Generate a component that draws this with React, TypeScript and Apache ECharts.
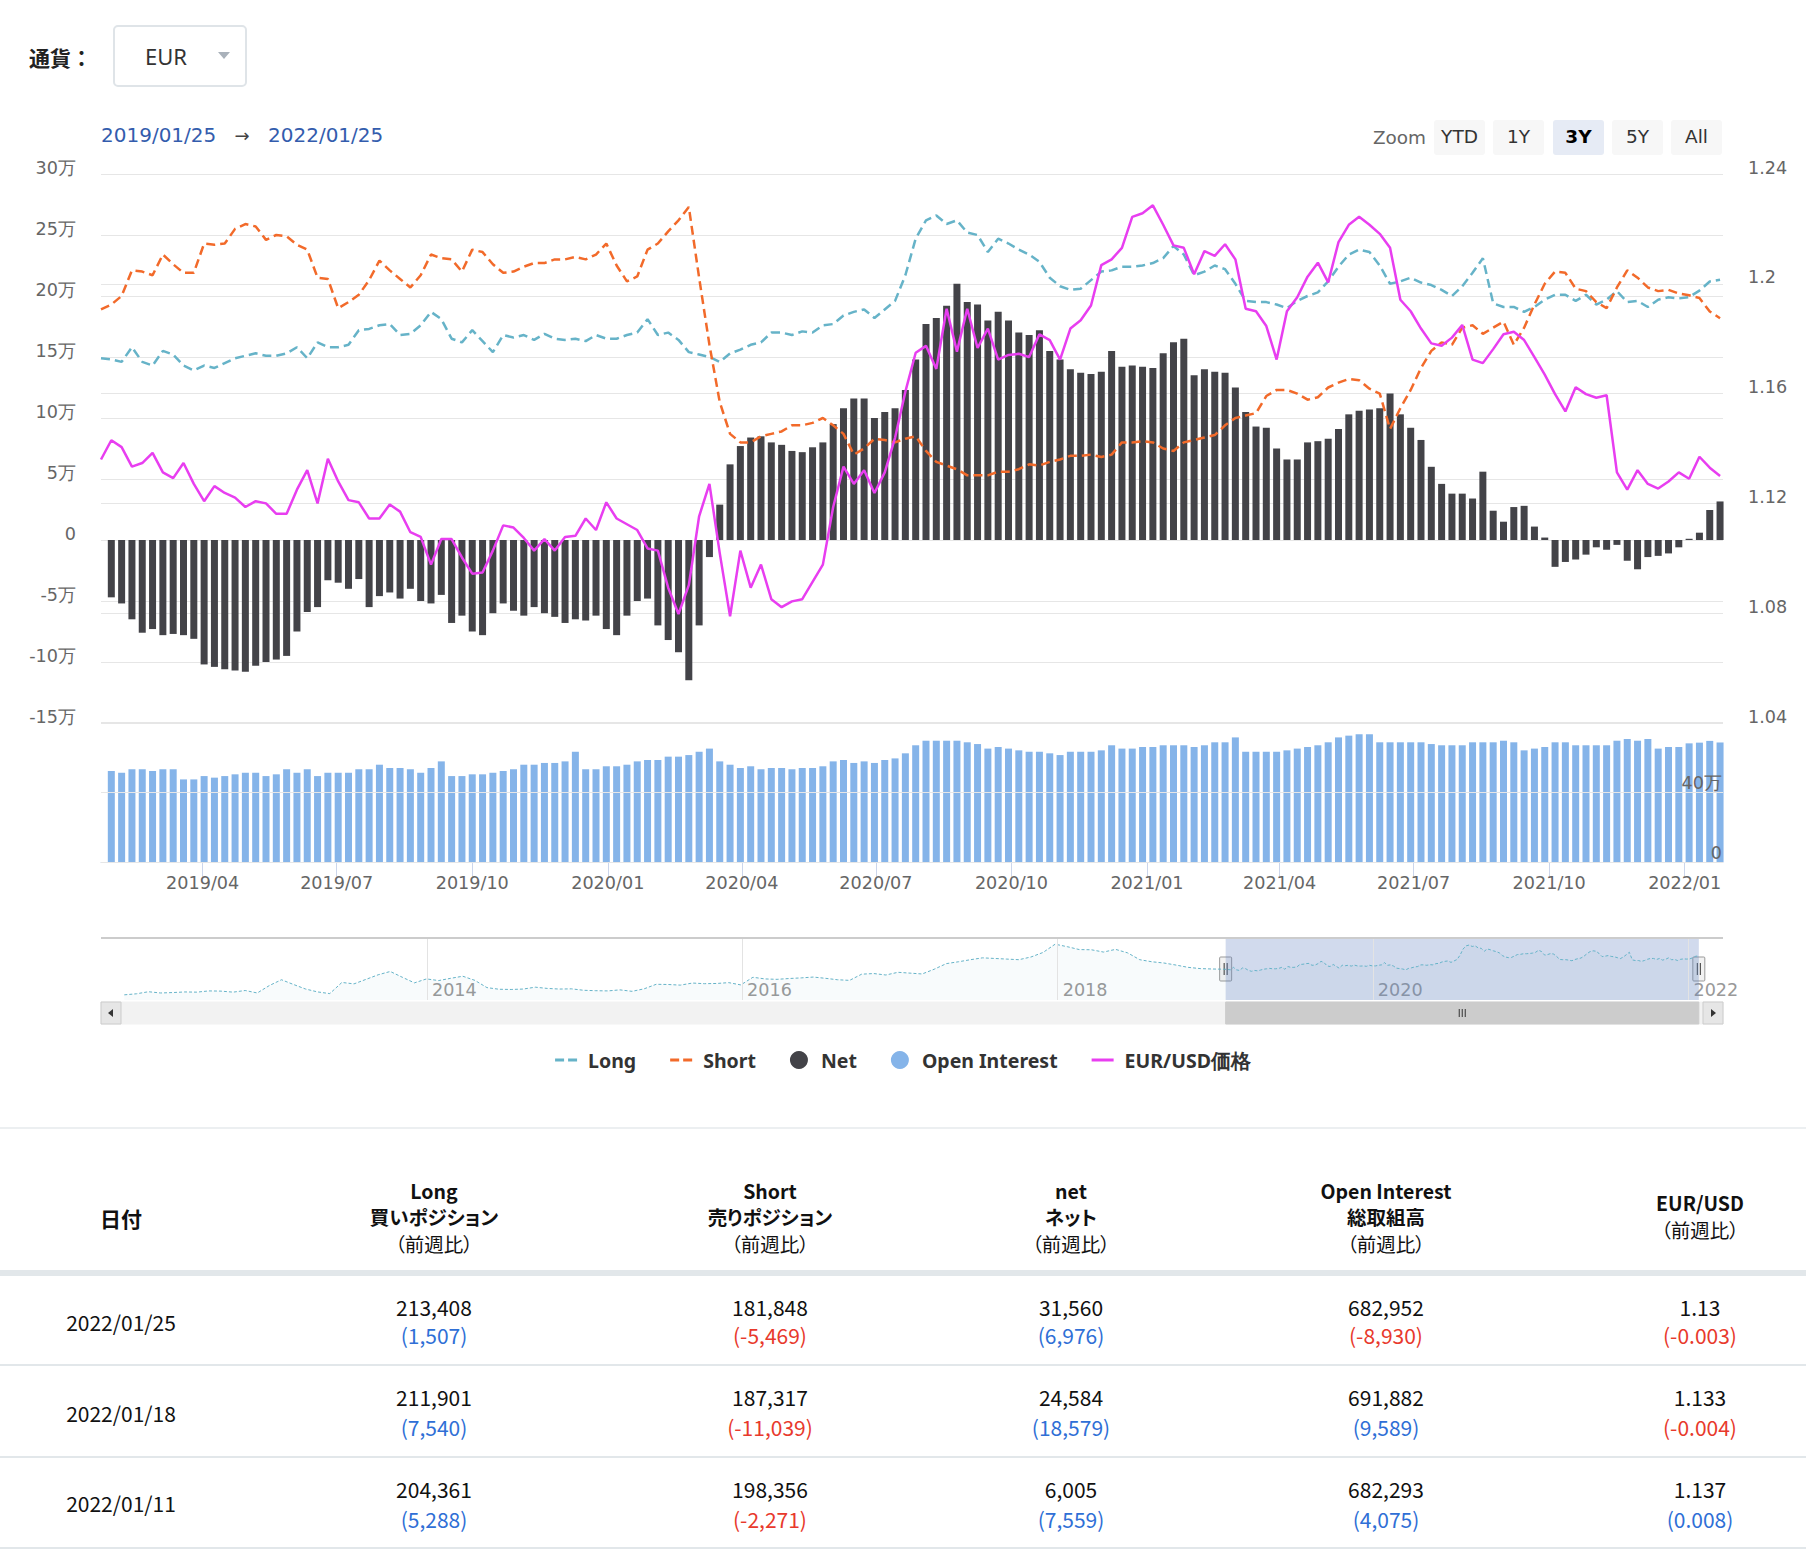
import React, { useEffect, useRef } from 'react';
import * as echarts from 'echarts';

// ---------- data ----------
const START_DATE = '2019-01-22'; // weekly (Tuesday) COT dates
const X_MIN = '2019-01-22';
const X_MAX = '2022-01-27';
const WINDOW_START = '2019-01-25';
const WINDOW_END = '2022-01-25';
const NAV_START = '2012-01-31'; // navigator history sampled every 4 weeks
const NAV_MIN = '2011-12-08';
const NAV_MAX = '2022-03-22';

// 万 units, 158 weekly points (lines)
const LONG = [
  14.9,
  14.8, 14.6, 15.8, 14.6, 14.3, 15.5, 15.2, 14.3, 13.9, 14.3,
  14.1, 14.5, 14.9, 15.1, 15.3, 15.1, 15.1, 15.3, 15.8, 14.9,
  16.2, 15.8, 15.8, 16.0, 17.2, 17.3, 17.6, 17.7, 16.8, 16.9,
  17.6, 18.7, 18.1, 16.5, 16.2, 17.2, 16.3, 15.4, 16.8, 16.6,
  16.8, 16.4, 16.9, 16.5, 16.4, 16.5, 16.3, 16.8, 16.5, 16.5,
  16.8, 17.0, 18.1, 16.8, 17.0, 16.4, 15.4, 15.2, 15.0, 14.6,
  15.3, 15.6, 16.0, 16.2, 17.0, 17.0, 16.8, 17.1, 17.0, 17.6,
  17.7, 18.4, 18.7, 18.9, 18.2, 18.9, 19.6, 21.7, 24.7, 26.2,
  26.6, 25.9, 26.2, 25.2, 25.0, 23.6, 24.7, 24.3, 23.8, 23.4,
  22.8, 21.5, 20.8, 20.5, 20.6, 21.3, 22.0, 22.1, 22.4, 22.4,
  22.5, 22.7, 23.1, 24.1, 23.4, 21.7, 22.0, 22.5, 22.2, 21.0,
  19.6, 19.5, 19.5, 19.3, 19.0, 19.6, 20.0, 20.3, 21.2, 22.4,
  23.4, 23.8, 23.6, 22.5, 21.0, 21.2, 21.5, 21.1, 20.9, 20.5,
  20.0, 20.8, 21.9, 23.1, 19.4, 19.1, 19.1, 18.7, 19.1, 19.7,
  20.1, 20.1, 19.6, 20.1, 19.3, 19.7, 20.4, 19.5, 19.6, 19.1,
  19.7, 19.9, 19.8, 19.91, 20.44, 21.19, 21.34
];
const SHORT = [
  18.9,
  19.3, 20.0, 22.1, 22.0, 21.7, 23.4, 22.6, 21.9, 21.9, 24.3,
  24.2, 24.3, 25.5, 25.9, 25.7, 24.6, 25.0, 24.9, 24.2, 23.8,
  21.5, 21.4, 19.0, 19.5, 20.1, 21.3, 22.9, 22.1, 21.4, 20.7,
  21.7, 23.4, 23.1, 23.0, 22.0, 23.8, 23.6, 22.6, 21.9, 22.0,
  22.4, 22.7, 22.7, 23.0, 23.0, 23.2, 23.0, 23.4, 24.3, 22.5,
  21.2, 21.6, 23.8, 24.3, 25.3, 26.2, 27.3, 21.5, 16.0, 11.3,
  8.7, 8.0, 8.0, 8.5, 8.7, 8.9, 9.4, 9.4, 9.6, 10.0,
  9.4, 8.7, 7.0, 7.5, 8.3, 8.2, 8.0, 8.3, 8.5, 7.3,
  6.4, 6.1, 5.8, 5.3, 5.3, 5.3, 5.6, 5.6, 5.8, 6.2,
  6.1, 6.4, 6.6, 6.9, 6.9, 7.0, 6.8, 7.0, 8.0, 8.0,
  8.1, 8.0, 7.5, 7.3, 8.0, 8.2, 8.4, 8.6, 9.4, 10.0,
  10.2, 10.4, 11.8, 12.3, 12.3, 12.0, 11.5, 11.7, 12.5, 12.9,
  13.2, 13.1, 12.4, 12.0, 9.1, 10.8, 12.3, 14.1, 15.5, 16.2,
  16.0, 17.4, 17.6, 16.9, 17.4, 17.9, 16.0, 17.4, 19.3, 21.0,
  22.0, 21.9, 20.6, 20.4, 19.5, 19.0, 20.7, 22.1, 21.5, 20.7,
  20.4, 20.5, 20.2, 20.06, 19.84, 18.73, 18.18
];
const PRICE = [
  1.136,
  1.143, 1.1405, 1.1334, 1.1347, 1.1384, 1.1313, 1.1292, 1.1347, 1.1271, 1.1208,
  1.1263, 1.1238, 1.1221, 1.1187, 1.1208, 1.12, 1.1162, 1.1162, 1.125, 1.1321,
  1.12, 1.1363, 1.128, 1.1212, 1.1204, 1.1145, 1.1145, 1.1196, 1.117, 1.1095,
  1.1078, 1.0977, 1.107, 1.107, 1.1003, 1.0944, 1.0948, 1.1028, 1.112, 1.1112,
  1.1074, 1.1028, 1.107, 1.1028, 1.1078, 1.1082, 1.1145, 1.1103, 1.1204, 1.1145,
  1.1124, 1.1103, 1.1036, 1.1028, 1.0893, 1.0797, 1.0902, 1.1153, 1.1271, 1.1019,
  1.0789, 1.1028, 1.0893, 1.0977, 1.0851, 1.0822, 1.0843, 1.0851, 1.0914, 1.0977,
  1.1187, 1.1334, 1.1271, 1.1321, 1.1238, 1.1313, 1.1439, 1.1607, 1.1749, 1.1774,
  1.169, 1.1909, 1.1753, 1.1909, 1.1766, 1.1837, 1.1724, 1.1741, 1.1745, 1.1733,
  1.1816, 1.1795, 1.1724, 1.1837, 1.1867, 1.1921, 1.2068, 1.2089, 1.2131, 1.2244,
  1.2257, 1.2286, 1.2215, 1.214, 1.2131, 1.2035, 1.2119, 1.2102, 1.2144, 1.2089,
  1.1909, 1.19, 1.1846, 1.1724, 1.19, 1.1951, 1.2026, 1.2077, 1.2005, 1.2152,
  1.2215, 1.2244, 1.2215, 1.2182, 1.2131, 1.1942, 1.19, 1.1837, 1.1783, 1.1774,
  1.1804, 1.185, 1.1724, 1.1711, 1.1762, 1.1816, 1.1825, 1.1795, 1.1733, 1.1669,
  1.1598, 1.1535, 1.1623, 1.1598, 1.1585, 1.1594, 1.1313, 1.125, 1.1321, 1.1271,
  1.1254, 1.128, 1.1313, 1.129, 1.137, 1.133, 1.13
];
// 万 units, 157 weekly bars (from 2019-01-29)
const NET = [
  -4.7, -5.2, -6.5, -7.6, -7.3, -7.8, -7.7, -7.8, -8.1, -10.2,
  -10.4, -10.6, -10.7, -10.8, -10.3, -10.0, -9.8, -9.5, -7.5, -5.9,
  -5.5, -3.3, -3.5, -4.0, -3.2, -5.5, -4.6, -4.3, -4.8, -4.0,
  -5.0, -5.2, -4.5, -6.8, -6.2, -7.5, -7.8, -6.0, -5.2, -5.8,
  -6.2, -5.5, -6.0, -6.3, -6.8, -6.5, -6.6, -6.2, -7.3, -7.8,
  -6.2, -5.0, -4.8, -7.0, -8.2, -9.2, -11.5, -7.0, -1.4, 2.9,
  6.2, 7.7, 8.4, 8.5, 8.0, 7.8, 7.3, 7.2, 7.6, 8.0,
  9.5, 10.8, 11.6, 11.6, 10.0, 10.5, 10.8, 12.3, 14.8, 17.7,
  18.2, 19.2, 21.0, 19.5, 19.3, 18.0, 18.7, 18.0, 17.0, 16.8,
  17.2, 15.5, 14.8, 14.0, 13.7, 13.6, 13.8, 15.5, 14.2, 14.3,
  14.2, 14.1, 15.3, 16.2, 16.5, 13.5, 14.0, 13.8, 13.7, 12.5,
  10.5, 9.3, 9.2, 7.5, 6.6, 6.6, 8.0, 8.1, 8.3, 9.1,
  10.3, 10.6, 10.7, 10.8, 12.0, 10.3, 9.2, 8.2, 6.0, 4.6,
  3.8, 3.8, 3.4, 5.6, 2.4, 1.5, 2.7, 2.8, 1.1, 0.2,
  -2.2, -1.8, -1.6, -1.2, -0.6, -0.8, -0.4, -1.7, -2.4, -1.4,
  -1.3, -1.1, -0.6, 0.1, 0.6, 2.46, 3.16
];
const OI = [
  52.0, 51.0, 53.0, 53.0, 52.0, 53.0, 53.0, 47.2, 47.2, 49.1,
  48.2, 49.1, 50.1, 51.0, 51.0, 49.1, 50.1, 53.0, 51.0, 53.0,
  49.1, 51.0, 51.0, 51.0, 53.0, 53.0, 55.6, 53.7, 53.7, 53.0,
  51.0, 53.7, 57.5, 49.1, 49.1, 50.1, 50.1, 51.0, 52.0, 53.0,
  55.6, 55.6, 56.6, 56.6, 57.5, 63.0, 53.0, 53.0, 54.7, 54.7,
  55.6, 57.5, 58.3, 58.3, 60.2, 60.2, 61.1, 63.0, 64.8, 57.5,
  55.6, 53.7, 54.7, 53.0, 53.7, 53.7, 53.0, 53.7, 53.7, 54.7,
  57.5, 58.3, 56.6, 57.5, 56.6, 58.3, 59.2, 62.1, 66.7, 69.3,
  69.3, 69.3, 69.3, 68.4, 67.4, 64.8, 65.7, 64.8, 63.8, 63.0,
  63.0, 62.1, 61.1, 63.0, 63.0, 63.0, 63.8, 66.7, 64.8, 64.8,
  65.7, 65.7, 66.7, 66.7, 66.7, 65.7, 66.7, 68.4, 68.4, 71.2,
  63.0, 63.0, 63.0, 63.0, 63.8, 64.8, 65.7, 66.7, 68.4, 71.2,
  72.2, 73.0, 73.0, 68.4, 68.4, 68.4, 68.4, 68.4, 67.4, 66.7,
  66.7, 66.7, 68.4, 68.4, 68.4, 69.3, 68.4, 63.8, 64.8, 65.7,
  68.4, 68.4, 66.7, 66.7, 66.7, 66.7, 69.3, 70.3, 69.3, 70.3,
  64.8, 65.7, 65.7, 67.8, 68.2, 69.2, 68.3
];
// navigator history of Long (万), every 4 weeks from 2012-01-31
const NAV_PRE = [
  2.5, 3.0, 4.0, 3.4, 3.6, 3.9, 3.8, 4.4, 4.3, 3.8,
  4.6, 3.4, 7.0, 9.8, 7.5, 5.3, 3.9, 3.1, 8.5, 7.8,
  10.0, 12.2, 13.8, 11.0, 8.3, 10.2, 9.4, 10.5, 11.5, 9.5,
  6.0, 5.2, 5.1, 5.3, 6.2, 5.6, 5.3, 5.4, 4.7, 4.5,
  4.4, 4.9, 4.2, 5.4, 7.6, 7.5, 7.2, 8.2, 7.9, 8.0,
  8.4, 7.3, 11.0, 10.2, 10.0, 10.4, 10.7, 11.1, 10.5, 9.8,
  9.5, 12.5, 12.8, 12.1, 13.4, 13.0, 12.6, 14.9, 17.6, 18.5,
  19.5, 20.4, 20.1, 19.8, 19.5, 20.8, 23.0, 27.0, 25.8, 24.4,
  24.3, 23.2, 24.5, 22.8, 19.5, 18.5, 17.9, 16.9, 15.8, 15.2,
  15.0
];

const QUARTER_TICKS = [
  '2019-04-01', '2019-07-01', '2019-10-01', '2020-01-01', '2020-04-01', '2020-07-01',
  '2020-10-01', '2021-01-01', '2021-04-01', '2021-07-01', '2021-10-01', '2022-01-01'
];
const NAV_YEAR_TICKS = ['2014-01-01', '2016-01-01', '2018-01-01', '2020-01-01', '2022-01-01'];
const ZOOM_BUTTONS = ['YTD', '1Y', '3Y', '5Y', 'All'];
const ZOOM_SELECTED = '3Y';

const TABLE_DATES = ['2022/01/25', '2022/01/18', '2022/01/11'];
const TABLE_LONG = ['213,408', '211,901', '204,361'];
const TABLE_LONG_CHG = ['1,507', '7,540', '5,288'];
const TABLE_SHORT = ['181,848', '187,317', '198,356'];
const TABLE_SHORT_CHG = ['-5,469', '-11,039', '-2,271'];
const TABLE_NET = ['31,560', '24,584', '6,005'];
const TABLE_NET_CHG = ['6,976', '18,579', '7,559'];
const TABLE_OI = ['682,952', '691,882', '682,293'];
const TABLE_OI_CHG = ['-8,930', '9,589', '4,075'];
const TABLE_FX = ['1.13', '1.133', '1.137'];
const TABLE_FX_CHG = ['-0.003', '-0.004', '0.008'];

// ---------- styles ----------
const C_LONG = '#66b3c8';
const C_SHORT = '#f26a2a';
const C_NET = '#434348';
const C_OI = '#85b4e9';
const C_FX = '#e83ef0';
const AXIS_FONT = 'DejaVu Sans, sans-serif';
const LEGEND_FONT = 'Noto Sans, sans-serif';
const CJK_FONT = '"Noto Sans CJK JP", "Noto Sans", sans-serif';
const DASH_ICON = 'path://M0,0H9V3H0Z M13,0H22V3H13Z';
const LINE_ICON = 'path://M0,0H22V3H0Z';

function stepDates(start: string, count: number, stepDays: number): string[] {
  const [y, m, d] = start.split('-').map(Number);
  const t0 = Date.UTC(y, m - 1, d);
  const out: string[] = [];
  for (let k = 0; k < count; k++) {
    out.push(new Date(t0 + k * stepDays * 86400000).toISOString().slice(0, 10));
  }
  return out;
}
function ts(s: string): number {
  const [y, m, d] = s.split('-').map(Number);
  return Date.UTC(y, m - 1, d);
}

function ChartBlock() {
  const ref = useRef<HTMLDivElement>(null);
  useEffect(() => {
    const chart = echarts.init(ref.current!, null, { renderer: 'svg' });
    const lineDates = stepDates(START_DATE, LONG.length, 7).map(ts);
    const barDates = lineDates.slice(1);
    const navDates = stepDates(NAV_START, NAV_PRE.length, 28).map(ts).concat(lineDates);
    const navVals = NAV_PRE.concat(LONG);
    const fmtYM = (v: number) => {
      const d = new Date(v);
      return d.getUTCFullYear() + '/' + String(d.getUTCMonth() + 1).padStart(2, '0');
    };
    const fmtY = (v: number) => String(new Date(v).getUTCFullYear());
    const axisLbl = { color: '#666', fontSize: 17.6, fontFamily: AXIS_FONT };
    const split = { show: true, lineStyle: { color: '#e6e6e6', width: 1 } };
    const qTicks = QUARTER_TICKS.map(ts);
    const yTicks = NAV_YEAR_TICKS.map(ts);

    const option: any = {
      animation: false,
      textStyle: { fontFamily: AXIS_FONT },
      legend: {
        top: 945,
        left: 'center',
        itemWidth: 22,
        itemHeight: 18,
        itemGap: 34,
        itemStyle: { borderWidth: 0 },
        textStyle: { fontFamily: LEGEND_FONT, fontWeight: 'bold', fontSize: 19.5, color: '#333', padding: [0, 0, 0, 6] },
        data: [
          { name: 'Long', icon: DASH_ICON },
          { name: 'Short', icon: DASH_ICON },
          { name: 'Net', icon: 'circle' },
          { name: 'Open Interest', icon: 'circle' },
          { name: 'EUR/USD価格', icon: LINE_ICON }
        ]
      },
      grid: [
        { left: 101, width: 1622, top: 74, height: 549 },
        { left: 101, width: 1622, top: 622, height: 140 },
        { left: 101, width: 1622, top: 838, height: 62 }
      ],
      xAxis: [
        { type: 'value', gridIndex: 0, min: ts(X_MIN), max: ts(X_MAX), show: false, splitLine: { show: false } },
        {
          type: 'value', gridIndex: 1, min: ts(X_MIN), max: ts(X_MAX),
          axisLine: { show: true, lineStyle: { color: '#ccd6eb', width: 1 } },
          axisTick: { show: true, length: 15, lineStyle: { color: '#ccd6eb' }, customValues: qTicks },
          axisLabel: { ...axisLbl, customValues: qTicks, formatter: fmtYM, margin: 12 },
          splitLine: { show: false }
        },
        {
          type: 'value', gridIndex: 2, min: ts(NAV_MIN), max: ts(NAV_MAX),
          axisLine: { show: false },
          axisTick: { show: false, customValues: yTicks },
          axisLabel: { ...axisLbl, color: '#999', customValues: yTicks, formatter: fmtY, inside: true, align: 'left', margin: 1, padding: [0, 0, 0, 5] },
          splitLine: { show: false }
        }
      ],
      yAxis: [
        {
          type: 'value', gridIndex: 0, position: 'left', min: -15, max: 30, interval: 5,
          axisLine: { show: false }, axisTick: { show: false },
          axisLabel: { ...axisLbl, margin: 25, verticalAlign: 'bottom', lineHeight: 13, formatter: (v: number) => (v === 0 ? '0' : v + '万') },
          splitLine: split
        },
        {
          type: 'value', gridIndex: 0, position: 'right', min: 1.04, max: 1.24, interval: 0.04,
          axisLine: { show: false }, axisTick: { show: false },
          axisLabel: { ...axisLbl, margin: 25, verticalAlign: 'bottom', lineHeight: 13, formatter: (v: number) => String(Math.round(v * 100) / 100) },
          splitLine: split
        },
        {
          type: 'value', gridIndex: 1, position: 'right', min: 0, max: 80, interval: 40, z: 10,
          axisLine: { show: false }, axisTick: { show: false },
          axisLabel: { ...axisLbl, inside: true, margin: 1, verticalAlign: 'bottom', lineHeight: 19, formatter: (v: number) => (v === 0 ? '0' : v === 40 ? '40万' : '') },
          splitLine: split
        },
        { type: 'value', gridIndex: 2, min: 0, max: 30, show: false }
      ],
      series: [
        {
          name: 'Long', type: 'line', xAxisIndex: 0, yAxisIndex: 0, z: 4,
          data: lineDates.map((d, i) => [d, LONG[i]]),
          showSymbol: false, symbol: 'none',
          lineStyle: { color: C_LONG, width: 2.5, type: [9, 5] }, itemStyle: { color: C_LONG }
        },
        {
          name: 'Short', type: 'line', xAxisIndex: 0, yAxisIndex: 0, z: 4,
          data: lineDates.map((d, i) => [d, SHORT[i]]),
          showSymbol: false, symbol: 'none',
          lineStyle: { color: C_SHORT, width: 2.5, type: [9, 5] }, itemStyle: { color: C_SHORT }
        },
        {
          name: 'Net', type: 'bar', xAxisIndex: 0, yAxisIndex: 0, z: 2,
          data: barDates.map((d, i) => [d, NET[i]]),
          barWidth: 7, itemStyle: { color: C_NET }
        },
        {
          name: 'Open Interest', type: 'bar', xAxisIndex: 1, yAxisIndex: 2, z: 2,
          data: barDates.map((d, i) => [d, OI[i]]),
          barWidth: 7, itemStyle: { color: C_OI }
        },
        {
          name: 'EUR/USD価格', type: 'line', xAxisIndex: 0, yAxisIndex: 1, z: 5,
          data: lineDates.map((d, i) => [d, PRICE[i]]),
          showSymbol: false, symbol: 'none',
          lineStyle: { color: C_FX, width: 2.5 }, itemStyle: { color: C_FX }
        },
        {
          name: 'navigator', type: 'line', xAxisIndex: 2, yAxisIndex: 3, z: 2,
          data: navDates.map((d, i) => [d, navVals[i]]),
          showSymbol: false, symbol: 'none', silent: true,
          lineStyle: { color: C_LONG, width: 1, type: [3, 2] },
          itemStyle: { color: C_LONG },
          areaStyle: { color: 'rgba(103,180,201,0.07)' },
          markArea: {
            silent: true,
            itemStyle: { color: 'rgba(102,133,194,0.3)' },
            data: [[{ xAxis: ts(WINDOW_START) }, { xAxis: ts(WINDOW_END) }]]
          },
          markLine: {
            silent: true, symbol: ['none', 'none'], label: { show: false },
            lineStyle: { color: '#e3e3e3', width: 1, type: 'solid' },
            data: yTicks.map((v) => ({ xAxis: v }))
          }
        }
      ]
    };
    chart.setOption(option);

    const xs = chart.convertToPixel({ xAxisIndex: 2 } as any, ts(WINDOW_START)) as unknown as number;
    const xe = chart.convertToPixel({ xAxisIndex: 2 } as any, ts(WINDOW_END)) as unknown as number;
    const navMid = 838 + 31;
    const handle = (x: number) => ({
      type: 'group', x, y: navMid, z: 100, silent: true,
      children: [
        { type: 'rect', shape: { x: -6, y: -12, width: 12, height: 24, r: 1 }, style: { fill: '#f2f2f2', stroke: '#999999', lineWidth: 1 } },
        { type: 'line', shape: { x1: -1.5, y1: -6, x2: -1.5, y2: 6 }, style: { stroke: '#333', lineWidth: 1 } },
        { type: 'line', shape: { x1: 1.5, y1: -6, x2: 1.5, y2: 6 }, style: { stroke: '#333', lineWidth: 1 } }
      ]
    });
    const sbTop = 902, sbH = 22;
    const btnX = [1434, 1493, 1553, 1612, 1671];
    const graphics: any[] = [
      { type: 'text', x: 101, y: 35, silent: true, style: { text: '2019/01/25', fill: '#335cad', fontSize: 20, fontFamily: AXIS_FONT, align: 'left', verticalAlign: 'middle' } },
      { type: 'text', x: 242, y: 35, silent: true, style: { text: '→', fill: '#444', fontSize: 18, fontFamily: AXIS_FONT, align: 'center', verticalAlign: 'middle' } },
      { type: 'text', x: 268, y: 35, silent: true, style: { text: '2022/01/25', fill: '#335cad', fontSize: 20, fontFamily: AXIS_FONT, align: 'left', verticalAlign: 'middle' } },
      { type: 'text', x: 1426, y: 37, silent: true, style: { text: 'Zoom', fill: '#666', fontSize: 18.4, fontFamily: AXIS_FONT, align: 'right', verticalAlign: 'middle' } },
      ...ZOOM_BUTTONS.map((b, i) => ({
        type: 'group', x: btnX[i], y: 20, silent: true,
        children: [
          { type: 'rect', shape: { x: 0, y: 0, width: 51, height: 35, r: 3 }, style: { fill: b === ZOOM_SELECTED ? '#e6ebf5' : '#f7f7f7' } },
          { type: 'text', x: 25.5, y: 16, style: { text: b, fill: b === ZOOM_SELECTED ? '#000' : '#333', fontWeight: b === ZOOM_SELECTED ? 'bold' : 'normal', fontSize: 18.5, fontFamily: AXIS_FONT, align: 'center', verticalAlign: 'middle' } }
        ]
      })),
      { type: 'line', z: 100, silent: true, shape: { x1: 101, y1: 838, x2: 1723, y2: 838 }, style: { stroke: '#cccccc', lineWidth: 2 } },
      handle(xs),
      handle(xe),
      { type: 'rect', z: 90, silent: true, shape: { x: 101, y: sbTop, width: 1622, height: sbH }, style: { fill: '#f2f2f2', stroke: '#f2f2f2' } },
      { type: 'rect', z: 91, silent: true, shape: { x: xs, y: sbTop, width: xe - xs, height: sbH }, style: { fill: '#cccccc', stroke: '#cccccc' } },
      { type: 'line', z: 92, silent: true, shape: { x1: (xs + xe) / 2 - 3, y1: sbTop + 7, x2: (xs + xe) / 2 - 3, y2: sbTop + 15 }, style: { stroke: '#333', lineWidth: 1 } },
      { type: 'line', z: 92, silent: true, shape: { x1: (xs + xe) / 2, y1: sbTop + 7, x2: (xs + xe) / 2, y2: sbTop + 15 }, style: { stroke: '#333', lineWidth: 1 } },
      { type: 'line', z: 92, silent: true, shape: { x1: (xs + xe) / 2 + 3, y1: sbTop + 7, x2: (xs + xe) / 2 + 3, y2: sbTop + 15 }, style: { stroke: '#333', lineWidth: 1 } },
      { type: 'rect', z: 93, silent: true, shape: { x: 101, y: sbTop, width: 20, height: sbH }, style: { fill: '#e6e6e6', stroke: '#cccccc', lineWidth: 1 } },
      { type: 'polygon', z: 94, silent: true, shape: { points: [[108, sbTop + 11], [113, sbTop + 7], [113, sbTop + 15]] }, style: { fill: '#333' } },
      { type: 'rect', z: 93, silent: true, shape: { x: 1703, y: sbTop, width: 20, height: sbH }, style: { fill: '#e6e6e6', stroke: '#cccccc', lineWidth: 1 } },
      { type: 'polygon', z: 94, silent: true, shape: { points: [[1716, sbTop + 11], [1711, sbTop + 7], [1711, sbTop + 15]] }, style: { fill: '#333' } }
    ];
    chart.setOption({ graphic: graphics });
    return () => chart.dispose();
  }, []);
  return <div ref={ref} style={{ position: 'absolute', left: 0, top: 100, width: 1806, height: 1020 }} />;
}

function Cell(props: { cx: number; cy: number; text: string; bold?: boolean; color?: string; lh?: number; fs?: number }) {
  const lh = props.lh || 28;
  return (
    <div
      style={{
        position: 'absolute', left: props.cx - 160, width: 320, top: props.cy - lh / 2, height: lh,
        lineHeight: lh + 'px', textAlign: 'center', whiteSpace: 'nowrap',
        fontSize: props.fs || 21,
        fontWeight: props.bold ? 'bold' : 'normal', color: props.color || '#111'
      }}
    >
      {props.text}
    </div>
  );
}

const chgColor = (s: string) => (s.trim().startsWith('-') ? '#e8392c' : '#2f6fd6');

export default function App() {
  const cols = [
    { cx: 434, title: 'Long', sub: '買いポジション', vals: TABLE_LONG, chg: TABLE_LONG_CHG },
    { cx: 770, title: 'Short', sub: '売りポジション', vals: TABLE_SHORT, chg: TABLE_SHORT_CHG },
    { cx: 1071, title: 'net', sub: 'ネット', vals: TABLE_NET, chg: TABLE_NET_CHG },
    { cx: 1386, title: 'Open Interest', sub: '総取組高', vals: TABLE_OI, chg: TABLE_OI_CHG }
  ];
  const rowValY = [1307, 1397, 1489];
  const rowChgY = [1335, 1427, 1519];
  const rowDateY = [1322, 1413, 1503];
  const dividers = [1365, 1457, 1548];
  const HFS = 19.5;
  return (
    <div
      style={{
        position: 'absolute', left: 0, top: 0, width: 1806, height: 1560, background: '#fff', overflow: 'hidden',
        fontFamily: CJK_FONT, fontSize: 21, fontFeatureSettings: '"palt"', color: '#111'
      }}
    >
      <div style={{ position: 'absolute', left: 29, top: 42, lineHeight: '30px', fontSize: 21, fontWeight: 'bold', color: '#222', fontFeatureSettings: 'normal' }}>通貨：</div>
      <div style={{ position: 'absolute', left: 113, top: 25, width: 134, height: 62, boxSizing: 'border-box', border: '2px solid #dfe4e8', borderRadius: 5 }}>
        <span style={{ position: 'absolute', left: 30, top: 14, lineHeight: '30px', fontFamily: '"Noto Sans", sans-serif', fontSize: 22, color: '#333' }}>EUR</span>
        <span style={{ position: 'absolute', left: 103, top: 25, width: 0, height: 0, borderLeft: '6px solid transparent', borderRight: '6px solid transparent', borderTop: '7px solid #a9b1ba' }} />
      </div>

      <ChartBlock />

      <div style={{ position: 'absolute', left: 0, top: 1127, width: 1806, height: 2, background: '#eceff1' }} />

      <Cell cx={121} cy={1218} text="日付" bold lh={26} />
      {cols.map((c) => (
        <React.Fragment key={c.title}>
          <Cell cx={c.cx} cy={1190} text={c.title} bold lh={25} fs={HFS} />
          <Cell cx={c.cx} cy={1216} text={c.sub} bold lh={25} fs={HFS} />
          <Cell cx={c.cx} cy={1243} text="（前週比）" lh={25} fs={HFS} />
        </React.Fragment>
      ))}
      <Cell cx={1700} cy={1202} text="EUR/USD" bold lh={25} fs={HFS} />
      <Cell cx={1700} cy={1229} text="（前週比）" lh={25} fs={HFS} />
      <div style={{ position: 'absolute', left: 0, top: 1270, width: 1806, height: 6, background: '#e2e7ea' }} />

      {TABLE_DATES.map((d, r) => (
        <React.Fragment key={d}>
          <Cell cx={121} cy={rowDateY[r]} text={d} />
          {cols.map((c) => (
            <React.Fragment key={c.title}>
              <Cell cx={c.cx} cy={rowValY[r]} text={c.vals[r]} lh={27} />
              <Cell cx={c.cx} cy={rowChgY[r]} text={'(' + c.chg[r] + ')'} color={chgColor(c.chg[r])} lh={27} />
            </React.Fragment>
          ))}
          <Cell cx={1700} cy={rowValY[r]} text={TABLE_FX[r]} lh={27} />
          <Cell cx={1700} cy={rowChgY[r]} text={'(' + TABLE_FX_CHG[r] + ')'} color={chgColor(TABLE_FX_CHG[r])} lh={27} />
          <div style={{ position: 'absolute', left: 0, top: dividers[r] - 1, width: 1806, height: 2, background: '#e2e7ea' }} />
        </React.Fragment>
      ))}
    </div>
  );
}
